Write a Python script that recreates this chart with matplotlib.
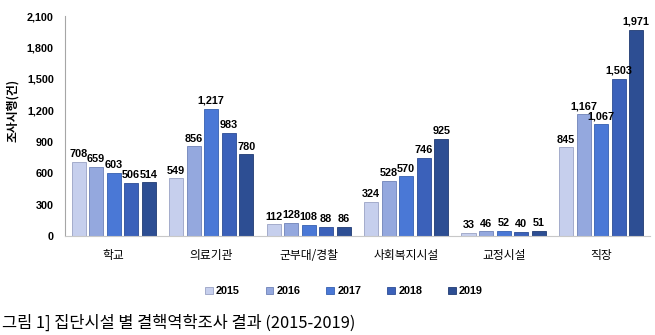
import numpy as np
import matplotlib.pyplot as plt

plt.rcParams['font.family'] = ['Noto Sans CJK KR', 'DejaVu Sans']

categories = ['학교', '의료기관', '군부대/경찰', '사회복지시설', '교정시설', '직장']
years = ['2015', '2016', '2017', '2018', '2019']
v2015 = [708, 549, 112, 324, 33, 845]
v2016 = [659, 856, 128, 528, 46, 1167]
v2017 = [603, 1217, 108, 570, 52, 1067]
v2018 = [506, 983, 88, 746, 40, 1503]
v2019 = [514, 780, 86, 925, 51, 1971]
series = [v2015, v2016, v2017, v2018, v2019]
yticks = [0, 300, 600, 900, 1200, 1500, 1800, 2100]

colors = ['#c6cfed', '#94a8de', '#4a78d6', '#3b61ba', '#2d4e93']
edges = ['#9aa3c4', '#6f82b8', '#3560b0', '#2c4c95', '#213b72']
num_font = 'Liberation Sans'

fig = plt.figure(figsize=(6.55, 3.35), dpi=100)
ax = fig.add_axes([0.0992, 0.2955, 0.893, 0.6567])

x = np.arange(len(categories))
pitch = 0.18
w = 0.145
for i, (vals, c, ec, yr) in enumerate(zip(series, colors, edges, years)):
    pos = x + (i - 2) * pitch
    bars = ax.bar(pos, vals, width=w, color=c, edgecolor=ec, linewidth=0.6, label=yr)
    for b, v in zip(bars, vals):
        ax.text(b.get_x() + b.get_width() / 2, v + 25, f'{v:,}', ha='center', va='bottom',
                fontsize=7.8, fontweight='bold', family=num_font)

ax.set_xlim(-0.5, len(categories) - 0.5)
ax.set_ylim(0, 2100)
ax.set_yticks(yticks)
ax.set_yticklabels([f'{t:,}' for t in yticks], fontsize=7.8, fontweight='bold', family=num_font)
ax.set_xticks(x)
ax.set_xticklabels(categories, fontsize=8.5)
ax.tick_params(axis='both', length=0)
ax.tick_params(axis='x', pad=9)
ax.tick_params(axis='y', pad=8)
for s in ['top', 'right']:
    ax.spines[s].set_visible(False)
ax.spines['left'].set_color('#a6a6a6')
ax.spines['bottom'].set_color('#c8c8c8')
ax.set_ylabel('조사시행(건)', fontsize=8.5, fontweight='bold')
ax.yaxis.set_label_coords(-0.078, 0.57)

leg = fig.legend(loc='center', bbox_to_anchor=(0.525, 0.13), ncol=5, frameon=False,
                 prop={'size': 7.8, 'weight': 'bold', 'family': num_font},
                 handlelength=0.7, handleheight=0.7, handletextpad=0.3, columnspacing=2.4)

fig.text(0.003, 0.035, '그림 1] 집단시설 별 결핵역학조사 결과 (2015-2019)', fontsize=11.8, va='center')

fig.savefig('out.png', dpi=100)
